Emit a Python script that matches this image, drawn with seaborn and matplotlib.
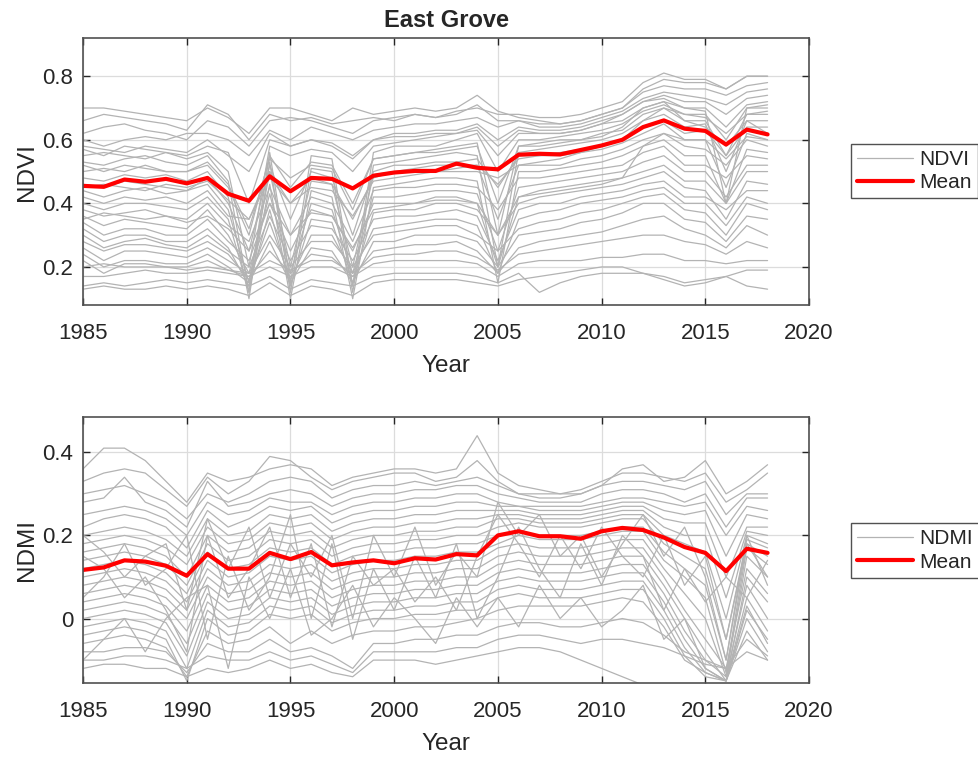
import numpy as np
import pandas as pd
import matplotlib
matplotlib.use('Agg')
import matplotlib.pyplot as plt
import seaborn as sns

# Years of the series
years = list(range(1985, 2019))

# Mean lines
ndvi_mean = [0.455, 0.452, 0.475, 0.468, 0.477, 0.463, 0.480, 0.430, 0.408, 0.485,
             0.438, 0.480, 0.477, 0.447, 0.487, 0.497, 0.502, 0.502, 0.525, 0.512,
             0.507, 0.553, 0.556, 0.554, 0.568, 0.582, 0.600, 0.640, 0.661, 0.635,
             0.628, 0.585, 0.632, 0.617]
ndmi_mean = [0.117, 0.123, 0.140, 0.137, 0.127, 0.103, 0.155, 0.120, 0.120, 0.158,
             0.143, 0.160, 0.128, 0.135, 0.140, 0.133, 0.145, 0.142, 0.155, 0.152,
             0.200, 0.210, 0.198, 0.198, 0.192, 0.210, 0.218, 0.213, 0.195, 0.172,
             0.158, 0.114, 0.168, 0.158]

# Individual pixel traces (estimated from the gray band)
ndvi_pixels = [
    [.70, .70, .69, .68, .67, .66, .70, .67, .62, .70, .70, .68, .66, .70, .68, .69, .70, .69, .70, .74, .69, .67, .66, .65, .66, .68, .70, .76, .79, .78, .78, .76, .80, .80],
    [.62, .64, .65, .63, .62, .60, .66, .64, .58, .66, .67, .66, .64, .62, .66, .67, .68, .67, .68, .71, .66, .66, .65, .65, .66, .68, .70, .75, .77, .76, .76, .74, .77, .78],
    [.60, .58, .60, .61, .60, .62, .62, .60, .55, .63, .60, .64, .62, .60, .63, .64, .65, .65, .66, .67, .64, .66, .64, .64, .65, .67, .69, .73, .75, .74, .73, .71, .75, .76],
    [.57, .55, .58, .57, .56, .55, .58, .56, .40, .60, .58, .60, .58, .54, .60, .62, .62, .63, .63, .65, .60, .64, .63, .63, .64, .66, .68, .72, .74, .72, .72, .68, .73, .74],
    [.55, .56, .55, .54, .56, .54, .56, .50, .20, .58, .55, .57, .56, .50, .58, .59, .60, .61, .62, .63, .55, .62, .62, .62, .63, .65, .66, .70, .72, .70, .70, .64, .71, .72],
    [.53, .52, .54, .55, .53, .52, .55, .47, .12, .56, .15, .55, .54, .14, .56, .58, .58, .58, .60, .62, .50, .60, .60, .61, .62, .63, .65, .69, .71, .68, .68, .60, .70, .70],
    [.50, .51, .50, .52, .50, .50, .52, .45, .30, .55, .45, .53, .52, .40, .54, .55, .56, .57, .58, .59, .30, .58, .59, .60, .60, .62, .63, .68, .70, .66, .66, .55, .68, .68],
    [.48, .47, .49, .48, .49, .47, .50, .42, .10, .53, .12, .51, .50, .12, .52, .53, .54, .55, .56, .55, .20, .56, .57, .58, .59, .60, .62, .66, .68, .64, .65, .50, .66, .66],
    [.46, .45, .47, .46, .45, .44, .48, .40, .25, .52, .35, .50, .48, .30, .50, .52, .52, .53, .53, .54, .45, .55, .55, .56, .57, .58, .60, .64, .66, .62, .63, .55, .64, .64],
    [.44, .42, .44, .45, .43, .44, .46, .38, .15, .50, .20, .47, .46, .20, .49, .50, .51, .52, .52, .52, .35, .52, .53, .54, .56, .57, .59, .62, .65, .60, .60, .45, .62, .60],
    [.42, .40, .42, .41, .42, .40, .44, .36, .35, .48, .40, .45, .44, .36, .47, .48, .49, .50, .50, .50, .48, .52, .52, .52, .54, .55, .57, .60, .62, .58, .57, .52, .60, .58],
    [.40, .38, .40, .40, .39, .38, .42, .35, .12, .46, .10, .44, .42, .10, .45, .46, .47, .48, .48, .47, .15, .50, .50, .51, .52, .53, .55, .58, .60, .55, .55, .40, .57, .56],
    [.38, .36, .37, .38, .36, .35, .40, .33, .28, .45, .30, .42, .40, .28, .44, .45, .45, .46, .46, .45, .38, .48, .48, .49, .50, .51, .52, .56, .58, .52, .52, .48, .55, .54],
    [.36, .33, .35, .34, .33, .32, .38, .30, .18, .43, .18, .40, .38, .18, .42, .42, .43, .44, .44, .43, .25, .45, .46, .47, .48, .49, .50, .53, .55, .50, .50, .42, .52, .52],
    [.34, .30, .32, .32, .30, .30, .35, .28, .22, .40, .25, .38, .36, .25, .40, .40, .40, .42, .42, .40, .20, .42, .44, .45, .46, .47, .48, .50, .52, .47, .47, .40, .50, .50],
    [.32, .28, .30, .30, .28, .28, .32, .26, .14, .38, .14, .35, .34, .15, .37, .38, .38, .40, .40, .38, .30, .40, .42, .43, .44, .45, .46, .48, .50, .45, .44, .35, .47, .46],
    [.30, .26, .28, .29, .27, .26, .30, .25, .20, .36, .22, .33, .32, .22, .35, .36, .36, .37, .38, .36, .22, .38, .40, .40, .42, .43, .44, .46, .47, .42, .42, .38, .44, .44],
    [.28, .25, .27, .27, .26, .25, .28, .24, .16, .34, .16, .30, .30, .18, .32, .33, .34, .35, .35, .33, .18, .35, .37, .38, .40, .41, .42, .44, .45, .40, .40, .33, .42, .40],
    [.26, .22, .25, .25, .24, .23, .26, .22, .18, .30, .20, .28, .28, .20, .30, .31, .32, .33, .33, .30, .25, .32, .34, .35, .37, .38, .40, .42, .43, .38, .37, .30, .40, .38],
    [.24, .20, .22, .22, .21, .21, .24, .20, .15, .28, .15, .26, .25, .15, .28, .28, .30, .30, .30, .28, .20, .30, .31, .32, .34, .35, .37, .40, .40, .35, .34, .28, .36, .35],
    [.22, .18, .21, .21, .20, .20, .22, .19, .17, .25, .18, .24, .23, .17, .25, .26, .27, .27, .28, .25, .18, .26, .28, .29, .30, .31, .33, .35, .36, .32, .30, .26, .33, .30],
    [.20, .21, .20, .20, .20, .19, .20, .19, .18, .22, .19, .22, .22, .18, .23, .24, .24, .25, .25, .23, .19, .24, .25, .26, .27, .28, .29, .30, .30, .28, .27, .24, .28, .26],
    [.17, .17, .18, .19, .18, .18, .19, .18, .17, .20, .17, .20, .20, .17, .21, .22, .22, .22, .22, .21, .17, .21, .22, .22, .22, .23, .23, .24, .24, .22, .22, .21, .22, .22],
    [.14, .15, .14, .15, .16, .15, .16, .15, .14, .17, .13, .16, .15, .14, .17, .18, .18, .18, .18, .17, .15, .18, .12, .15, .17, .18, .18, .18, .17, .15, .16, .17, .14, .13],
    [.13, .14, .13, .13, .14, .13, .14, .13, .11, .15, .11, .14, .13, .11, .15, .16, .16, .16, .16, .15, .14, .16, .17, .18, .19, .20, .20, .18, .16, .14, .15, .17, .19, .19],
    [.58, .57, .56, .58, .57, .56, .60, .55, .50, .62, .58, .60, .59, .55, .60, .61, .61, .62, .62, .64, .58, .63, .62, .62, .63, .65, .68, .72, .73, .70, .69, .40, .70, .71],
    [.66, .68, .67, .66, .65, .63, .71, .68, .60, .68, .66, .67, .65, .66, .67, .66, .68, .67, .69, .70, .68, .68, .67, .67, .68, .70, .72, .78, .81, .79, .79, .76, .80, .80],
    [.35, .37, .36, .35, .36, .34, .36, .32, .25, .40, .30, .37, .36, .26, .38, .39, .40, .41, .41, .40, .30, .42, .43, .44, .45, .46, .48, .58, .62, .60, .60, .54, .61, .60],
    [.45, .46, .45, .44, .46, .45, .47, .41, .35, .50, .40, .48, .46, .35, .48, .50, .50, .50, .51, .52, .46, .54, .55, .55, .56, .58, .60, .66, .70, .68, .67, .62, .68, .69],
    [.52, .50, .52, .51, .50, .50, .53, .46, .32, .54, .48, .52, .51, .38, .54, .55, .56, .56, .57, .58, .40, .58, .58, .59, .60, .61, .64, .70, .72, .66, .64, .58, .66, .62],
]

ndmi_pixels = [
    [.36, .41, .41, .38, .33, .28, .35, .33, .34, .36, .37, .36, .32, .34, .35, .36, .36, .35, .36, .44, .35, .32, .31, .30, .30, .32, .36, .37, .33, .34, .38, .30, .33, .37],
    [.33, .35, .36, .35, .31, .27, .34, .30, .33, .39, .38, .34, .31, .33, .34, .35, .35, .33, .34, .38, .33, .30, .30, .30, .31, .33, .35, .35, .34, .33, .35, .28, .31, .35],
    [.30, .31, .32, .30, .28, .24, .30, .28, .30, .33, .34, .33, .29, .31, .32, .32, .33, .32, .33, .34, .32, .30, .29, .29, .30, .32, .33, .33, .32, .31, .33, .25, .30, .30],
    [.28, .29, .34, .28, .26, .22, .33, .27, .28, .30, .31, .30, .27, .29, .30, .30, .31, .31, .32, .32, .30, .29, .28, .28, .28, .30, .31, .31, .30, .28, .30, .22, .29, .29],
    [.25, .26, .27, .26, .24, .20, .28, .25, .26, .29, .28, .28, .25, .27, .28, .28, .29, .29, .30, .30, .28, .27, .27, .27, .27, .28, .29, .29, .28, .27, .28, .20, .27, .26],
    [.22, .24, .25, .24, .22, .17, .26, .22, .24, .27, .26, .27, .23, .25, .26, .26, .27, .27, .28, .28, .27, .27, .26, .26, .26, .27, .28, .28, .26, .25, .26, .15, .25, .24],
    [.20, .21, .22, .21, .19, .15, .24, .20, .21, .25, .24, .25, .21, .23, .24, .24, .25, .25, .26, .26, .26, .26, .25, .25, .25, .26, .27, .27, .24, .23, .23, .10, .22, .22],
    [.18, .19, .20, .19, .17, .13, .22, .18, .19, .23, .22, .23, .19, .21, .22, .22, .23, .23, .24, .24, .25, .25, .24, .24, .24, .25, .26, .26, .22, .20, .20, .05, .21, .20],
    [.16, .17, .18, .17, .15, .10, .20, .16, .17, .21, .20, .21, .17, .19, .20, .20, .21, .21, .22, .22, .24, .24, .23, .23, .23, .24, .25, .25, .20, .18, .16, .00, .20, .18],
    [.14, .15, .16, .15, .13, .08, .18, .14, .15, .19, .18, .19, .15, .17, .18, .18, .19, .19, .20, .20, .22, .23, .22, .22, .22, .23, .24, .24, .18, .15, .12, -.05, .19, .17],
    [.12, .13, .14, .13, .11, .06, .16, .12, .13, .17, .16, .17, .13, .15, .16, .16, .17, .17, .18, .18, .20, .21, .20, .20, .20, .21, .22, .22, .16, .12, .08, -.10, .18, .15],
    [.10, .11, .12, .11, .09, .04, .14, .10, .11, .15, .14, .15, .11, .13, .14, .14, .15, .15, .16, .16, .18, .20, .19, .19, .19, .20, .21, .21, .14, .10, .05, -.13, .17, .13],
    [.08, .09, .10, .09, .07, .02, .12, .08, .09, .13, .12, .13, .09, .11, .12, .12, .13, .13, .14, .14, .17, .18, .17, .17, .17, .18, .19, .19, .12, .06, .00, -.14, .15, .10],
    [.06, .07, .08, .07, .05, .00, .10, .06, .07, .11, .10, .11, .07, .09, .10, .10, .11, .11, .12, .12, .15, .16, .15, .15, .15, .16, .17, .17, .10, .02, -.05, -.12, .12, .06],
    [.04, .05, .06, .05, .03, -.03, .08, .04, .05, .09, .08, .09, .05, .07, .08, .08, .09, .09, .10, .10, .13, .14, .13, .13, .13, .14, .15, .15, .08, .00, -.08, -.15, .10, .04],
    [.02, .03, .04, .03, .01, -.06, .06, .02, .03, .07, .06, .07, .03, .05, .06, .06, .07, .07, .08, .08, .11, .12, .11, .11, .11, .12, .13, .13, .06, -.03, -.10, -.14, .08, .00],
    [.00, .01, .02, .01, -.01, -.09, .04, .00, .01, .05, .04, .05, .01, .03, .04, .04, .05, .05, .06, .06, .09, .10, .09, .09, .09, .10, .11, .11, .04, -.05, -.12, -.15, .05, -.03],
    [-.02, -.01, .00, -.01, -.03, -.12, .02, -.02, -.01, .03, .02, .03, -.01, .01, .02, .02, .03, .03, .04, .04, .07, .08, .07, .07, .07, .08, .09, .09, .02, -.07, -.13, -.15, .03, -.06],
    [-.04, -.03, -.02, -.03, -.05, -.15, .00, -.04, -.03, .01, .00, .01, -.03, -.01, .00, .00, .01, .01, .02, .02, .05, .06, .05, .05, .05, .06, .07, .07, .00, -.09, -.14, -.15, .00, -.08],
    [-.06, -.05, -.04, -.05, -.07, -.14, -.03, -.06, -.05, -.02, -.06, -.03, -.06, -.04, -.03, -.03, -.02, -.02, -.01, .00, .02, .03, .03, .03, .03, .04, .05, .04, -.02, -.10, -.13, -.15, -.03, -.10],
    [-.08, -.08, -.07, -.07, -.08, -.13, -.06, -.08, -.08, -.05, -.08, -.07, -.09, -.12, -.06, -.06, -.05, -.05, -.04, -.04, -.02, -.01, -.01, -.02, -.02, -.01, .00, -.01, -.04, -.08, -.10, -.12, -.05, -.09],
    [-.10, -.10, -.09, -.09, -.10, -.12, -.09, -.10, -.10, -.08, -.10, -.09, -.11, -.13, -.08, -.08, -.08, -.08, -.07, -.07, -.05, -.04, -.04, -.05, -.06, -.05, -.05, -.06, -.07, -.09, -.11, -.12, -.08, -.10],
    [-.12, -.11, -.11, -.12, -.12, -.14, -.12, -.13, -.12, -.10, -.12, -.11, -.13, -.14, -.10, -.10, -.10, -.11, -.10, -.09, -.08, -.07, -.07, -.08, -.10, -.12, -.14, -.16, -.16, -.16, -.16, -.16, -.16, -.16],
    [.15, .12, .05, .10, .02, -.08, .20, .05, .12, .22, .05, .18, -.02, .15, .08, .12, .04, .10, .02, .15, .25, .18, .10, .20, .12, .22, .15, .10, .20, .08, .15, -.05, .18, .10],
    [.05, .10, .18, .08, .12, .20, -.05, .15, .02, .10, .25, .00, .18, -.05, .12, .02, .15, .05, .18, .00, .10, .22, .12, .05, .18, .08, .20, .15, .02, .12, .04, .10, .05, .14],
    [.20, .16, .10, .15, .18, .02, .24, .12, .22, .05, .18, .10, .20, .00, .20, .10, .22, .08, .16, .10, .28, .20, .25, .15, .20, .10, .18, .25, .15, .22, .10, -.10, .20, .08],
    [-.10, -.05, .00, -.08, .00, .05, .08, -.12, .10, .00, .12, -.04, .00, .08, -.02, .05, .00, -.06, .05, -.02, .05, -.02, .08, .00, .05, -.02, .02, .08, -.05, .00, -.12, -.15, .02, -.05],
]


def to_long(pixels):
    rows = []
    for i, vals in enumerate(pixels):
        for yr, v in zip(years, vals):
            rows.append({'pixel': i, 'Year': yr, 'value': v})
    return pd.DataFrame(rows)


sns.set_theme(style='white')
plt.rcParams['font.family'] = ['Liberation Sans', 'DejaVu Sans']
plt.rcParams['axes.edgecolor'] = '#262626'
plt.rcParams['xtick.color'] = '#262626'
plt.rcParams['ytick.color'] = '#262626'
plt.rcParams['text.color'] = '#262626'
plt.rcParams['axes.labelcolor'] = '#262626'

fig = plt.figure(figsize=(9.79, 7.57), dpi=100)
ax1 = fig.add_axes([0.0848, 0.597, 0.7416, 0.3527])
ax2 = fig.add_axes([0.0848, 0.0978, 0.7416, 0.3514])

gray = '#b3b3b3'
panels = [
    (ax1, ndvi_pixels, ndvi_mean, 'NDVI', (0.08, 0.92), [0.2, 0.4, 0.6, 0.8], ['0.2', '0.4', '0.6', '0.8'], 0.810),
    (ax2, ndmi_pixels, ndmi_mean, 'NDMI', (-0.155, 0.485), [0, 0.2, 0.4], ['0', '0.2', '0.4'], 0.309),
]

for ax, pixels, mean, name, ylim, yt, ytl, leg_top in panels:
    df = to_long(pixels)
    sns.lineplot(data=df, x='Year', y='value', units='pixel', estimator=None,
                 color=gray, linewidth=0.9, ax=ax, legend=False)
    mean_df = pd.DataFrame({'Year': years, 'value': mean})
    sns.lineplot(data=mean_df, x='Year', y='value', color='#ff0000',
                 linewidth=3, ax=ax, legend=False)

    ax.set_xlim(1985, 2020)
    ax.set_ylim(*ylim)
    ax.set_xticks(range(1985, 2021, 5))
    ax.set_yticks(yt)
    ax.set_yticklabels(ytl)
    ax.tick_params(labelsize=16, direction='in', length=5, width=1,
                   top=True, right=True, bottom=True, left=True)
    ax.tick_params(axis='x', pad=13)
    ax.tick_params(axis='y', pad=7)
    ax.grid(True, color='#dcdcdc', linewidth=0.9)
    ax.set_axisbelow(True)
    for s in ax.spines.values():
        s.set_linewidth(1.2)
        s.set_color('#505050')
    ax.set_xlabel('Year', fontsize=17.5, labelpad=8)
    ax.set_ylabel(name, fontsize=17.5, labelpad=3)

    handles = [plt.Line2D([], [], color=gray, linewidth=0.9),
               plt.Line2D([], [], color='#ff0000', linewidth=3)]
    leg = ax.legend(handles, [name, 'Mean'], loc='upper left',
                    bbox_to_anchor=(0.869, leg_top), bbox_transform=fig.transFigure,
                    fontsize=15, frameon=True, fancybox=False, borderaxespad=0,
                    handlelength=2.7, handletextpad=0.3, borderpad=0.3,
                    labelspacing=0.2)
    leg.get_frame().set_edgecolor('#262626')
    leg.get_frame().set_linewidth(1.0)

ax1.set_title('East Grove', fontsize=17, fontweight='bold', pad=8)

fig.savefig('out.png', dpi=100)
